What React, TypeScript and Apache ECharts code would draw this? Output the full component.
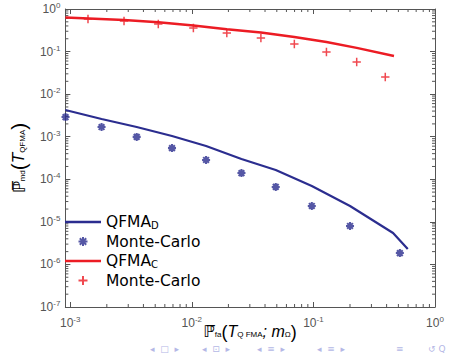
import React, { useEffect, useRef } from "react";
import * as echarts from "echarts";

// Monte-Carlo estimates (discrete detector, D)
const mcXD = [0.000915, 0.00181, 0.00352, 0.00687, 0.0131, 0.0256, 0.049, 0.097, 0.2, 0.514];
const mcYD = [2.9e-3, 1.69e-3, 9.9e-4, 5.4e-4, 2.84e-4, 1.4e-4, 6.6e-5, 2.36e-5, 8.0e-6, 1.85e-6];
// QFMA_D curve
const lineXD = [0.000912, 0.00181, 0.00352, 0.00687, 0.0131, 0.0256, 0.049, 0.097, 0.2, 0.452, 0.597];
const lineYD = [4.24e-3, 2.6e-3, 1.69e-3, 1.04e-3, 6.05e-4, 2.99e-4, 1.65e-4, 6.95e-5, 2.36e-5, 5.47e-6, 2.3e-6];
// Monte-Carlo estimates (continuous detector, C)
const mcXC = [0.0014, 0.00277, 0.0053, 0.0103, 0.0194, 0.037, 0.0697, 0.128, 0.227, 0.39];
const mcYC = [0.582, 0.523, 0.444, 0.358, 0.273, 0.208, 0.151, 0.0977, 0.0569, 0.0253];
// QFMA_C curve
const lineXC = [0.000912, 0.00277, 0.0053, 0.0103, 0.0194, 0.037, 0.0697, 0.128, 0.227, 0.46];
const lineYC = [0.631, 0.552, 0.487, 0.41, 0.334, 0.281, 0.22, 0.168, 0.122, 0.0787];

const seriesNames = ["QFMA_D", "MC_D", "QFMA_C", "MC_C"];
const legendLabels = ["QFMA{sub|D}", "Monte-Carlo", "QFMA{sub|C}", "Monte-Carlo"];

const xMin = Math.pow(10, -3.04);
const xMax = 1;
const yMin = 1e-7;
const yMax = 1;
const xDecades = [-3, -2, -1];
const yDecades = [-7, -6, -5, -4, -3, -2, -1];
const minorMults = [2, 3, 4, 5, 6, 7, 8, 9];

const navGroups = [
  { t: "◂  □  ▸", x: 150 },
  { t: "◂  ⊡  ▸", x: 202 },
  { t: "◂  ≡  ▸", x: 257 },
  { t: "◂  ≡  ▸", x: 317 },
  { t: "≡", x: 396 },
  { t: "↺ Q", x: 428 },
];

const BLUE = "#2b2d8f";
const RED = "#ec1c24";
const AXIS = "#555";

const starPath =
  "path://M-7,-7M7,7M0,-4.5L0,4.5M-4.5,0L4.5,0M-3.2,-3.2L3.2,3.2M-3.2,3.2L3.2,-3.2";
const plusPath = "path://M-7,-7M7,7M0,-4.5L0,4.5M-4.5,0L4.5,0";
const lineIcon = "path://M0,0H36V2.5H0Z";

function zip(xs: number[], ys: number[]) {
  return xs.map((x, i) => [x, ys[i]]);
}

function supLabel(v: number) {
  const l = Math.log10(v);
  const r = Math.round(l);
  if (Math.abs(l - r) > 1e-6) return "";
  return "10{sup|" + r + "}";
}

export default function App() {
  const ref = useRef<HTMLDivElement>(null);
  useEffect(() => {
    if (!ref.current) return;
    const chart = echarts.init(ref.current, undefined, { renderer: "svg" });

    const tickData: number[][] = [];
    xDecades.forEach((d) =>
      minorMults.forEach((m) => {
        const v = m * Math.pow(10, d);
        if (v > xMin && v < xMax) tickData.push([v, 1e-3, 0]);
      })
    );
    yDecades.forEach((d) =>
      minorMults.forEach((m) => {
        const v = m * Math.pow(10, d);
        if (v > yMin && v < yMax) tickData.push([1e-2, v, 1]);
      })
    );

    const labelRich = {
      sup: { fontSize: 8, color: AXIS, fontFamily: "Liberation Sans", verticalAlign: "top" as const, padding: [0, 0, 7, 0] },
    };
    const nameRich = {
      bb: { fontSize: 17, fontFamily: "DejaVu Sans", color: "#000" },
      sub: { fontSize: 8, fontFamily: "Liberation Sans", color: "#000", padding: [8, 0, 0, 0] },
      p: { fontSize: 21, fontFamily: "Liberation Sans", color: "#000" },
      it: { fontSize: 17, fontFamily: "Liberation Sans", fontStyle: "italic" as const, color: "#000" },
    };
    const xNameRich = {
      bb: { fontSize: 16, fontFamily: "DejaVu Sans", color: "#000", lineHeight: 17 },
      sub: { fontSize: 8, fontFamily: "Liberation Sans", color: "#000", padding: [5, 0, 0, 0], lineHeight: 12 },
      p: { fontSize: 18, fontFamily: "Liberation Sans", color: "#000", lineHeight: 17 },
      it: { fontSize: 16, fontFamily: "Liberation Sans", fontStyle: "italic" as const, color: "#000", lineHeight: 17 },
    };

    const baseX = {
      type: "log" as const,
      min: xMin,
      max: xMax,
      logBase: 10,
      splitLine: { show: false },
      axisLine: { show: true, lineStyle: { color: AXIS, width: 1 } },
      axisTick: { show: true, inside: true, length: 5, lineStyle: { color: AXIS } },
    };
    const baseY = {
      type: "log" as const,
      min: yMin,
      max: yMax,
      logBase: 10,
      splitLine: { show: false },
      axisLine: { show: true, lineStyle: { color: AXIS, width: 1 } },
      axisTick: { show: true, inside: true, length: 5, lineStyle: { color: AXIS } },
    };

    chart.setOption({
      animation: false,
      backgroundColor: "#fff",
      grid: { left: 57, top: 9, right: 20, bottom: 47 },
      xAxis: [
        {
          ...baseX,
          position: "bottom",
          axisLabel: {
            formatter: supLabel,
            color: AXIS,
            fontSize: 12,
            fontFamily: "Liberation Sans",
            margin: 8,
            rich: labelRich,
          },
          name: "{bb|ℙ̅}{sub|fa}{p|(}{it|T}{sub|Q FMA}{it|; m}{sub|Ω}{p|)}",
          nameLocation: "middle",
          nameGap: 16,
          nameMoveOverlap: false,
          nameTextStyle: { rich: xNameRich, fontSize: 16, lineHeight: 17, fontFamily: "DejaVu Sans", color: "#000" },
        },
        { ...baseX, position: "top", axisLabel: { show: false } },
      ],
      yAxis: [
        {
          ...baseY,
          position: "left",
          axisLabel: {
            formatter: supLabel,
            color: AXIS,
            fontSize: 12,
            fontFamily: "Liberation Sans",
            margin: 5,
            rich: labelRich,
          },
          name: "{bb|ℙ̅}{sub|md}{p|(}{it|T}{sub|QFMA}{p|)}",
          nameLocation: "middle",
          nameRotate: 90,
          nameGap: 29,
          nameTextStyle: { rich: nameRich, fontSize: 16, fontFamily: "DejaVu Sans", color: "#000" },
        },
        { ...baseY, position: "right", axisLabel: { show: false } },
      ],
      legend: {
        data: [
          { name: "QFMA_D", icon: lineIcon },
          { name: "MC_D" },
          { name: "QFMA_C", icon: lineIcon },
          { name: "MC_C" },
        ],
        orient: "vertical",
        left: 65,
        top: 214,
        padding: 0,
        itemWidth: 36,
        itemHeight: 14,
        itemGap: 3.5,
        selectedMode: false,
        formatter: (name: string) => legendLabels[seriesNames.indexOf(name)],
        textStyle: {
          fontSize: 15.5,
          fontFamily: "DejaVu Sans",
          color: "#000",
          rich: {
            sub: { fontSize: 10, fontFamily: "DejaVu Sans", color: "#000", padding: [6, 0, 0, 0] },
          },
        },
      },
      series: [
        {
          name: "QFMA_D",
          type: "line",
          data: zip(lineXD, lineYD),
          symbol: "none",
          lineStyle: { color: BLUE, width: 2.2 },
          itemStyle: { color: BLUE },
          z: 3,
        },
        {
          name: "MC_D",
          type: "scatter",
          data: zip(mcXD, mcYD),
          symbol: starPath,
          symbolSize: 12.5,
          symbolKeepAspect: true,
          itemStyle: { color: BLUE, borderColor: BLUE, borderWidth: 2.1 },
          z: 4,
        },
        {
          name: "QFMA_C",
          type: "line",
          data: zip(lineXC, lineYC),
          symbol: "none",
          lineStyle: { color: RED, width: 2.5 },
          itemStyle: { color: RED },
          z: 3,
        },
        {
          name: "MC_C",
          type: "scatter",
          data: zip(mcXC, mcYC),
          symbol: plusPath,
          symbolSize: 13,
          symbolKeepAspect: true,
          itemStyle: { color: RED, borderColor: RED, borderWidth: 1.5 },
          z: 4,
        },
        {
          name: "minorTicks",
          type: "custom",
          silent: true,
          data: tickData,
          renderItem: (params: any, api: any) => {
            const kind = api.value(2);
            const style = { stroke: AXIS, lineWidth: 1 };
            if (kind === 0) {
              const v = api.value(0);
              const b = api.coord([v, yMin]);
              const t = api.coord([v, yMax]);
              return {
                type: "group",
                children: [
                  { type: "line", shape: { x1: b[0], y1: b[1], x2: b[0], y2: b[1] - 3 }, style },
                  { type: "line", shape: { x1: t[0], y1: t[1], x2: t[0], y2: t[1] + 3 }, style },
                ],
              };
            }
            const v = api.value(1);
            const l = api.coord([xMin, v]);
            const r = api.coord([xMax, v]);
            return {
              type: "group",
              children: [
                { type: "line", shape: { x1: l[0], y1: l[1], x2: l[0] + 3, y2: l[1] }, style },
                { type: "line", shape: { x1: r[0], y1: r[1], x2: r[0] - 3, y2: r[1] }, style },
              ],
            };
          },
          z: 1,
        },
      ],
      graphic: navGroups.map((s) => ({
        type: "text",
        x: s.x,
        y: 344,
        silent: true,
        style: { text: s.t, fill: "#b4b8e6", fontSize: 9, fontFamily: "DejaVu Sans" },
      })),
    });

    return () => chart.dispose();
  }, []);

  return (
    <div
      ref={ref}
      style={{ position: "absolute", left: 0, top: 0, width: 455, height: 354 }}
    />
  );
}
